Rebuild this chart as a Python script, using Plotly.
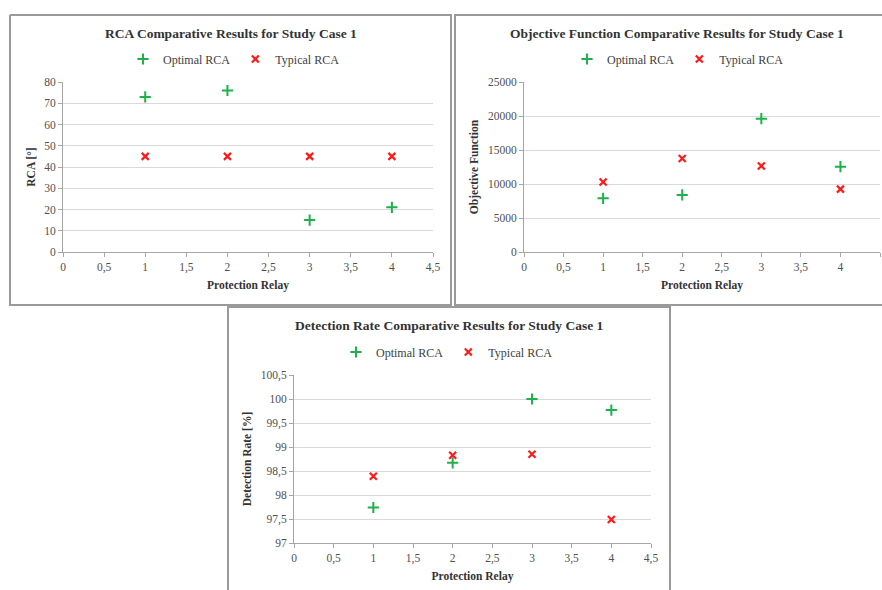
import plotly.graph_objects as go

W, H = 882, 590

relays = [1, 2, 3, 4]
rca_optimal = [73, 76, 15, 21]
rca_typical = [45, 45, 45, 45]
obj_optimal = [7900, 8400, 19600, 12550]
obj_typical = [10300, 13750, 12650, 9250]
det_optimal = [97.74, 98.67, 100.0, 99.77]
det_typical = [98.39, 98.83, 98.85, 97.49]

x_ticks = [0, 0.5, 1, 1.5, 2, 2.5, 3, 3.5, 4, 4.5]
rca_ticks = [0, 10, 20, 30, 40, 50, 60, 70, 80]
obj_ticks = [0, 5000, 10000, 15000, 20000, 25000]
det_ticks = [97, 97.5, 98, 98.5, 99, 99.5, 100, 100.5]

titles = [
    "RCA Comparative Results for Study Case 1",
    "Objective Function Comparative Results for Study Case 1",
    "Detection Rate Comparative Results for Study Case 1",
]
y_titles = ["RCA [°]", "Objective Function", "Detection Rate [%]"]
x_title = "Protection Relay"


def lab(v):
    s = ("%g" % v)
    return s.replace(".", ",")


def px(x):
    return x / W


def py(y):
    return 1 - y / H


FONT = "Liberation Serif"
GREEN = "#1fb04a"
RED = "#ff1a1a"
GRID = "#d9d9d9"
AXIS = "#a6a6a6"
TXT = "#333333"
BOX = "#9a9a9a"

# panel plot areas in pixels: (left, right, top, bottom)
panels = [
    (63, 433, 82, 252),
    (524, 880, 82, 252),
    (294, 651, 375, 543),
]
# frame outlines (pixel points, open where the frame runs off the picture)
frames = [
    [(10, 15), (451, 15), (451, 305), (10, 305), (10, 15)],
    [(882, 15), (455, 15), (455, 305), (882, 305)],
    [(228, 590), (228, 307), (670, 307), (670, 590)],
]
title_pos = [(231, 33), (677, 33), (449, 326)]
legend_pos = [(234, 59), (678, 59), (447, 352)]

series = [
    (rca_optimal, rca_typical, rca_ticks, [0, 80]),
    (obj_optimal, obj_typical, obj_ticks, [0, 25000]),
    (det_optimal, det_typical, det_ticks, [97, 100.5]),
]

fig = go.Figure()
layout = {}
shapes = []
annotations = []
for i, ((l, r, t, b), (opt, typ, yt, yr)) in enumerate(zip(panels, series)):
    sfx = "" if i == 0 else str(i + 1)
    leg = "legend" + sfx
    fig.add_trace(go.Scatter(
        x=relays, y=opt, mode="markers", name="Optimal RCA",
        xaxis="x" + sfx, yaxis="y" + sfx, legend=leg,
        marker=dict(symbol="cross-thin", size=8, line=dict(color=GREEN, width=2), color=GREEN),
    ))
    fig.add_trace(go.Scatter(
        x=relays, y=typ, mode="markers", name="Typical RCA",
        xaxis="x" + sfx, yaxis="y" + sfx, legend=leg,
        marker=dict(symbol="x-thin", size=7, line=dict(color=RED, width=2.2), color=RED),
    ))
    layout["xaxis" + sfx] = dict(
        domain=[px(l), px(r)], anchor="y" + sfx, range=[0, 4.5],
        tickmode="array", tickvals=x_ticks, ticktext=[lab(v) for v in x_ticks],
        showgrid=False, zeroline=False, showline=True, linecolor=AXIS, linewidth=1,
        ticks="outside", ticklen=4, tickcolor=AXIS, automargin=False,
        tickfont=dict(family=FONT, size=11.5, color="#505050"),
        title=dict(text="<b>" + x_title + "</b>", standoff=8,
                   font=dict(family=FONT, size=11.5, color=TXT)),
        fixedrange=True,
    )
    layout["yaxis" + sfx] = dict(
        domain=[py(b), py(t)], anchor="x" + sfx, range=yr,
        tickmode="array", tickvals=yt, ticktext=[lab(v) for v in yt],
        showgrid=True, gridcolor=GRID, gridwidth=1, zeroline=False,
        showline=True, linecolor=AXIS, linewidth=1,
        ticks="outside", ticklen=4, tickcolor=AXIS, automargin=False,
        tickfont=dict(family=FONT, size=11.5, color="#505050"),
        title=dict(text="<b>" + y_titles[i] + "</b>", standoff=6,
                   font=dict(family=FONT, size=11.5, color=TXT)),
        fixedrange=True,
    )
    lx, ly = legend_pos[i]
    layout[leg] = dict(
        orientation="h", x=px(lx), y=py(ly), xanchor="center", yanchor="middle",
        font=dict(family=FONT, size=12, color="#404040"), bgcolor="rgba(0,0,0,0)",
        itemwidth=30, tracegroupgap=0,
    )
    pts = frames[i]
    path = "M " + " L ".join("%.5f %.5f" % (px(a), py(c)) for a, c in pts)
    shapes.append(dict(type="path", xref="paper", yref="paper", path=path,
                       line=dict(color=BOX, width=2), layer="below"))
    tx, ty = title_pos[i]
    annotations.append(dict(text="<b>" + titles[i] + "</b>", xref="paper", yref="paper",
                            x=px(tx), y=py(ty), xanchor="center", yanchor="middle",
                            showarrow=False, font=dict(family=FONT, size=13.5, color=TXT)))

fig.update_layout(
    width=W, height=H, margin=dict(l=0, r=0, t=0, b=0, autoexpand=False),
    paper_bgcolor="white", plot_bgcolor="rgba(0,0,0,0)",
    shapes=shapes, annotations=annotations, **layout,
)

fig.write_html(
    "out.html",
    config={"displayModeBar": False},
    post_script="document.body.style.margin='0';document.body.style.overflow='hidden';",
)
